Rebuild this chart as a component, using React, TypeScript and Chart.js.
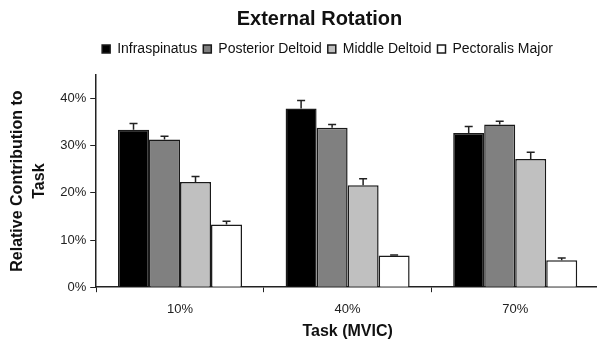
import React, { useEffect, useRef } from "react";
import { Chart, registerables } from "chart.js";

Chart.register(...registerables);

const categories = ["10%", "40%", "70%"];
const seriesNames = ["Infraspinatus", "Posterior Deltoid", "Middle Deltoid", "Pectoralis Major"];
const infraspinatus = [33.4, 37.9, 32.7];
const posteriorDeltoid = [31.3, 33.8, 34.5];
const middleDeltoid = [22.3, 21.6, 27.2];
const pectoralisMajor = [13.3, 6.7, 5.7];
const infraspinatusErr = [1.3, 1.7, 1.4];
const posteriorDeltoidErr = [0.7, 0.7, 0.7];
const middleDeltoidErr = [1.2, 1.4, 1.4];
const pectoralisMajorErr = [0.7, 0.15, 0.5];
const yTicks = [0, 10, 20, 30, 40];

const FONT = "'Liberation Sans', Arial, sans-serif";

const errorBarPlugin = {
  id: "errorBars",
  afterDatasetsDraw(chart: any) {
    const ctx = chart.ctx;
    const yScale = chart.scales.y;
    chart.data.datasets.forEach((ds: any, i: number) => {
      const meta = chart.getDatasetMeta(i);
      meta.data.forEach((bar: any, j: number) => {
        const v = ds.data[j];
        const e = ds.errors[j];
        const yTop = yScale.getPixelForValue(v + e);
        const yBase = yScale.getPixelForValue(v);
        ctx.save();
        ctx.strokeStyle = "#222";
        ctx.lineWidth = 1.5;
        ctx.beginPath();
        ctx.moveTo(bar.x, yBase);
        ctx.lineTo(bar.x, yTop);
        ctx.moveTo(bar.x - 4, yTop);
        ctx.lineTo(bar.x + 4, yTop);
        ctx.stroke();
        ctx.restore();
      });
    });
  },
};

const legendMargin = {
  id: "legendMargin",
  beforeInit(chart: any) {
    const legend = chart.legend;
    if (!legend) return;
    const fit = legend.fit;
    legend.fit = function () {
      fit.bind(legend)();
      this.height += 9;
    };
  },
  afterLayout(chart: any) {
    if (chart.titleBlock) {
      chart.titleBlock.left += 20;
      chart.titleBlock.right += 20;
    }
    if (chart.legend) {
      chart.legend.left += 28;
      chart.legend.right += 28;
    }
  },
};

export default function App() {
  const ref = useRef<HTMLCanvasElement>(null);
  useEffect(() => {
    if (!ref.current) return;
    const colors = ["#000000", "#808080", "#c0c0c0", "#ffffff"];
    const values = [infraspinatus, posteriorDeltoid, middleDeltoid, pectoralisMajor];
    const errs = [infraspinatusErr, posteriorDeltoidErr, middleDeltoidErr, pectoralisMajorErr];
    const chart = new Chart(ref.current, {
      type: "bar",
      data: {
        labels: categories,
        datasets: seriesNames.map((name, i) => ({
          label: name,
          data: values[i],
          errors: errs[i],
          backgroundColor: colors[i],
          borderColor: "#1a1a1a",
          borderWidth: 1.5,
          barPercentage: 1,
          categoryPercentage: 0.74,
        })) as any,
      },
      options: {
        responsive: false,
        animation: false,
        devicePixelRatio: 1,
        layout: { padding: { left: 0, right: 41, top: 0, bottom: 2 } },
        plugins: {
          title: {
            display: true,
            text: "External Rotation",
            color: "#111",
            font: { family: FONT, size: 20, weight: "bold" },
            padding: { top: 7, bottom: 5 },
          },
          legend: {
            display: true,
            labels: {
              color: "#111",
              font: { family: FONT, size: 14 },
              boxWidth: 8,
              boxHeight: 8,
              padding: 6,
            },
          },
          tooltip: { enabled: false },
        },
        scales: {
          x: {
            grid: { display: true, drawOnChartArea: false, drawTicks: true, tickLength: 5, color: "#222", offset: true },
            border: { display: true, color: "#222", width: 1.5 },
            ticks: { color: "#222", font: { family: FONT, size: 13 }, padding: 9 },
            title: {
              display: true,
              text: "Task (MVIC)",
              color: "#111",
              font: { family: FONT, size: 16, weight: "bold" },
              padding: { top: -4, bottom: 0 },
            },
          },
          y: {
            min: 0,
            max: 45,
            afterBuildTicks: (scale: any) => {
              scale.ticks = yTicks.map((v) => ({ value: v }));
            },
            grid: { display: true, drawOnChartArea: false, drawTicks: true, tickLength: 6, color: "#222" },
            border: { display: true, color: "#222", width: 1.5 },
            ticks: {
              color: "#222",
              font: { family: FONT, size: 13 },
              padding: 4,
              callback: (v: any) => v + "%",
            },
            title: {
              display: true,
              text: ["Relative Contribution to", "Task"],
              color: "#111",
              font: { family: FONT, size: 16, weight: "bold", lineHeight: 1.35 },
              padding: { top: 7, bottom: 6 },
            },
          },
        },
      },
      plugins: [errorBarPlugin, legendMargin],
    });
    return () => chart.destroy();
  }, []);
  return (
    <div style={{ position: "absolute", left: 0, top: 0, width: 597, height: 343, overflow: "hidden", background: "#fff" }}>
      <canvas ref={ref} width={640} height={343} style={{ display: "block" }} />
    </div>
  );
}
